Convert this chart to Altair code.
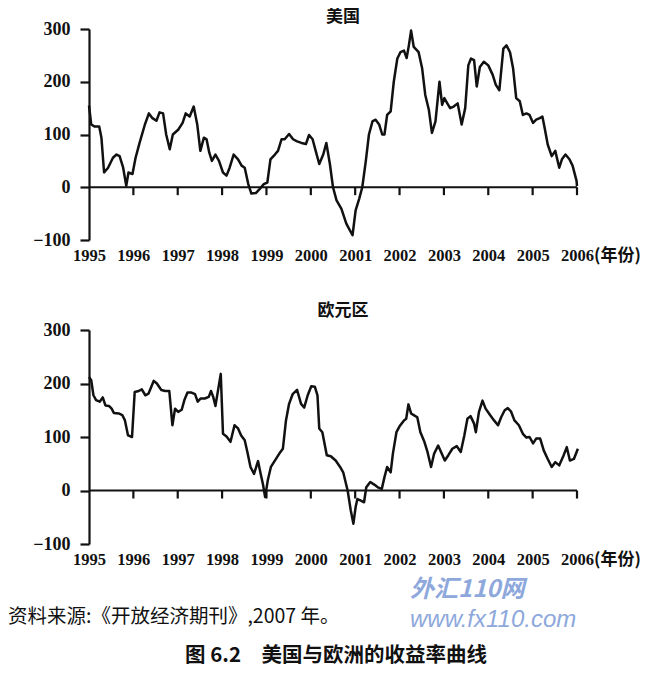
import altair as alt
import pandas as pd

YEARS = list(range(1995, 2007))
Y_TICKS = [-100, 0, 100, 200, 300]

US_YEAR = [1995.00, 1995.05, 1995.13, 1995.23, 1995.28, 1995.34, 1995.43, 1995.54, 1995.62, 1995.69,
           1995.77, 1995.84, 1995.89, 1995.98, 1996.05, 1996.14, 1996.26, 1996.35, 1996.43, 1996.52,
           1996.59, 1996.67, 1996.74, 1996.82, 1996.89, 1997.01, 1997.11, 1997.18, 1997.27, 1997.36,
           1997.44, 1997.51, 1997.59, 1997.65, 1997.71, 1997.77, 1997.85, 1997.93, 1998.02, 1998.10,
           1998.17, 1998.26, 1998.36, 1998.44, 1998.51, 1998.59, 1998.66, 1998.76, 1998.85, 1998.94,
           1999.02, 1999.09, 1999.19, 1999.26, 1999.34, 1999.41, 1999.51, 1999.60, 1999.69, 1999.79,
           1999.89, 1999.96, 2000.04, 2000.11, 2000.19, 2000.28, 2000.35, 2000.43, 2000.50, 2000.58,
           2000.69, 2000.80, 2000.94, 2001.01, 2001.09, 2001.16, 2001.24, 2001.31, 2001.39, 2001.46,
           2001.54, 2001.61, 2001.66, 2001.72, 2001.80, 2001.87, 2001.95, 2002.02, 2002.10, 2002.16,
           2002.21, 2002.26, 2002.32, 2002.43, 2002.51, 2002.58, 2002.66, 2002.73, 2002.81, 2002.90,
           2002.96, 2003.01, 2003.07, 2003.14, 2003.22, 2003.31, 2003.40, 2003.48, 2003.55, 2003.61,
           2003.68, 2003.74, 2003.81, 2003.90, 2004.00, 2004.10, 2004.17, 2004.25, 2004.34, 2004.41,
           2004.49, 2004.56, 2004.63, 2004.71, 2004.78, 2004.86, 2004.93, 2005.01, 2005.08, 2005.16,
           2005.22, 2005.27, 2005.34, 2005.43, 2005.51, 2005.60, 2005.66, 2005.74, 2005.83, 2005.90,
           2005.99, 2006.00]
US_VAL = [155, 119, 115, 115, 94, 28, 37, 56, 62, 59,
          37, 3, 28, 25, 56, 84, 119, 140, 131, 126,
          142, 140, 100, 72, 100, 109, 122, 140, 134, 153,
          119, 69, 94, 91, 66, 50, 62, 50, 28, 22,
          37, 62, 53, 41, 37, 6, -12, -11, -3, 6,
          9, 53, 62, 69, 91, 91, 101, 91, 87, 84,
          82, 99, 91, 69, 44, 62, 84, 44, 0, -25,
          -41, -69, -91, -44, -22, 0, 50, 100, 125, 128,
          119, 100, 100, 137, 144, 200, 244, 256, 259, 245,
          269, 297, 266, 256, 225, 175, 147, 103, 125, 200,
          156, 169, 160, 150, 153, 159, 119, 150, 231, 244,
          241, 191, 228, 238, 231, 213, 194, 184, 263, 269,
          256, 225, 169, 163, 137, 140, 137, 122, 128, 131,
          134, 113, 81, 59, 69, 37, 53, 62, 53, 41,
          12, 2]

EU_YEAR = [1995.00, 1995.05, 1995.10, 1995.16, 1995.24, 1995.31, 1995.37, 1995.45, 1995.51, 1995.56,
           1995.67, 1995.75, 1995.81, 1995.88, 1995.97, 1996.03, 1996.12, 1996.19, 1996.27, 1996.34,
           1996.46, 1996.53, 1996.63, 1996.72, 1996.81, 1996.88, 1996.94, 1997.01, 1997.09, 1997.15,
           1997.22, 1997.31, 1997.39, 1997.45, 1997.52, 1997.61, 1997.70, 1997.75, 1997.80, 1997.85,
           1997.91, 1997.97, 1998.02, 1998.10, 1998.19, 1998.28, 1998.36, 1998.43, 1998.51, 1998.57,
           1998.64, 1998.72, 1998.81, 1998.87, 1998.92, 1998.97, 1999.03, 1999.10, 1999.19, 1999.29,
           1999.37, 1999.44, 1999.51, 1999.59, 1999.69, 1999.78, 1999.85, 1999.93, 2000.01, 2000.09,
           2000.15, 2000.19, 2000.26, 2000.36, 2000.45, 2000.56, 2000.66, 2000.73, 2000.83, 2000.90,
           2000.96, 2001.01, 2001.05, 2001.13, 2001.20, 2001.25, 2001.34, 2001.43, 2001.51, 2001.60,
           2001.66, 2001.72, 2001.80, 2001.85, 2001.93, 2002.00, 2002.10, 2002.15, 2002.20, 2002.26,
           2002.32, 2002.40, 2002.47, 2002.56, 2002.63, 2002.71, 2002.78, 2002.87, 2002.95, 2003.02,
           2003.10, 2003.19, 2003.29, 2003.38, 2003.46, 2003.53, 2003.60, 2003.68, 2003.72, 2003.79,
           2003.87, 2003.94, 2004.04, 2004.13, 2004.22, 2004.29, 2004.37, 2004.44, 2004.51, 2004.59,
           2004.69, 2004.78, 2004.86, 2004.93, 2005.01, 2005.08, 2005.17, 2005.25, 2005.34, 2005.43,
           2005.51, 2005.60, 2005.69, 2005.77, 2005.84, 2005.93, 2006.02]
EU_VAL = [212, 206, 178, 169, 166, 174, 159, 158, 153, 145,
          144, 141, 131, 103, 100, 184, 186, 189, 178, 181,
          205, 200, 188, 186, 186, 122, 153, 147, 151, 169,
          183, 183, 180, 166, 172, 172, 175, 186, 175, 158,
          188, 218, 106, 101, 91, 122, 116, 103, 94, 72,
          44, 31, 55, 31, 12, -12, 19, 44, 56, 69,
          78, 131, 162, 180, 188, 162, 155, 178, 195, 194,
          178, 116, 109, 66, 64, 56, 44, 34, 0, -37,
          -62, -31, -16, -19, -22, 6, 16, 11, 6, 3,
          25, 44, 34, 69, 109, 120, 131, 134, 161, 144,
          141, 137, 109, 91, 72, 44, 69, 84, 69, 56,
          66, 78, 83, 72, 103, 134, 139, 125, 109, 147,
          168, 153, 141, 131, 122, 137, 150, 154, 148, 131,
          122, 106, 99, 100, 88, 97, 97, 75, 59, 44,
          53, 47, 64, 81, 56, 59, 78]

TITLE_US = "美国"
TITLE_EU = "欧元区"
UNIT = "(年份)"
SOURCE = "资料来源:《开放经济期刊》,2007 年。"
CAPTION = "图 6.2　美国与欧洲的收益率曲线"
WM1 = "外汇110网"
WM2 = "www.fx110.com"

W = 488
CJK = "Noto Sans CJK SC"
SERIF = "Liberation Serif"
INK = "#111111"


def xenc(field="year"):
    return alt.X(f"{field}:Q",
                 scale=alt.Scale(domain=[1995, 2006], nice=False, zero=False),
                 axis=alt.Axis(values=YEARS, format="d", title=None, domain=False, ticks=False,
                               grid=False, labelPadding=7, labelFont=SERIF, labelFontWeight="bold",
                               labelFontSize=16.5, labelColor=INK, labelFlush=False))


def yenc(field="val"):
    return alt.Y(f"{field}:Q",
                 scale=alt.Scale(domain=[-100, 300], nice=False, zero=False),
                 axis=alt.Axis(values=Y_TICKS, title=None, grid=False, domainWidth=2.2,
                               domainColor=INK, tickWidth=2.2, tickColor=INK, tickSize=9,
                               labelPadding=10, labelFont=SERIF, labelFontWeight="bold",
                               labelFontSize=18, labelColor=INK))


def panel(years, vals, title, h, toff, extra=None):
    df = pd.DataFrame({"year": years, "val": vals})
    zero_df = pd.DataFrame({"year": [1995], "year2": [2006]})
    tick_df = pd.DataFrame({"year": YEARS[1:]})
    zero = alt.Chart(zero_df).mark_rule(color=INK, strokeWidth=2.2).encode(
        x=xenc(), x2="year2:Q", y=alt.datum(0))
    ticks = alt.Chart(tick_df).mark_rule(color=INK, strokeWidth=2.2).encode(
        x=xenc(), y=alt.datum(0), y2=alt.datum(-15))
    line = alt.Chart(df).mark_line(color=INK, strokeWidth=2.5, strokeJoin="round").encode(
        x=xenc(), y=yenc())
    unit = alt.Chart(pd.DataFrame({"year": [2006], "t": [UNIT]})).mark_text(
        font=CJK, fontWeight="bold", fontSize=17, align="left", baseline="middle", dx=17,
        color=INK).encode(x=xenc(), y=alt.value(h + 16), text="t:N")
    layers = [zero, ticks, line, unit]
    if extra:
        layers += extra
    return alt.layer(*layers).properties(
        width=W, height=h,
        title=alt.TitleParams(title, font=CJK, fontSize=17, fontWeight="bold", color=INK,
                              offset=toff, dx=10, anchor="middle"))


def note(text, x, y, size, weight="normal", align="left", color=INK, font=CJK, style="normal"):
    return alt.Chart(pd.DataFrame({"t": [text]})).mark_text(
        font=font, fontSize=size, fontWeight=weight, align=align, baseline="middle",
        color=color, fontStyle=style).encode(x=alt.value(x), y=alt.value(y), text="t:N")


extras = [
    note(WM1, 321, 260, 24, weight="bold", color="#8ea8dc", style="italic"),
    note(WM2, 321, 290, 24, color="#8ea8dc", font="Liberation Sans", style="italic"),
    note(SOURCE, -81, 287, 19.5),
    note(CAPTION, 247, 326, 20.5, weight="bold", align="center"),
]

top = panel(US_YEAR, US_VAL, TITLE_US, 211, -6)
bottom = panel(EU_YEAR, EU_VAL, TITLE_EU, 214, 1, extras)

chart = alt.vconcat(top, bottom, spacing=38).properties(padding=0).configure_view(stroke=None)

chart.save("out.html", embed_options={"renderer": "svg", "actions": False})
